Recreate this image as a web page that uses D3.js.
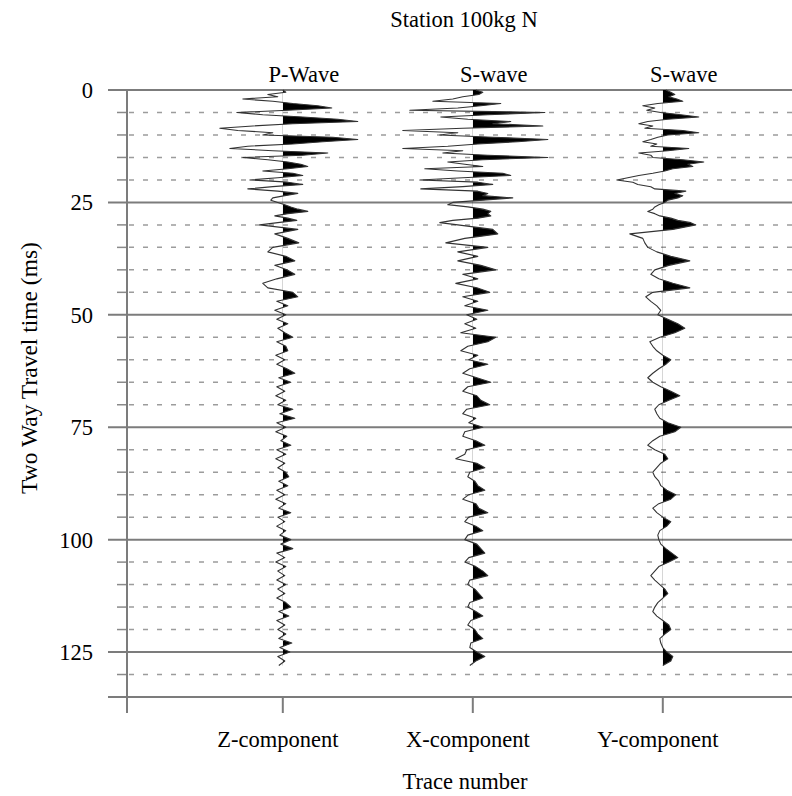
<!DOCTYPE html>
<html>
<head>
<meta charset="utf-8">
<script src="https://cdn.jsdelivr.net/npm/d3@7"></script>
<style>
  body { margin: 0; background: #fff; }
  svg { display: block; }
  text { font-family: "Liberation Serif", "Times New Roman", serif; fill: #000; }
</style>
</head>
<body>
<svg id="chart" width="792" height="796"></svg>
<script>
// ---- data -------------------------------------------------------------
const chartTitle = "Station 100kg N";
const components = ["Z-component", "X-component", "Y-component"];
const waveLabels = ["P-Wave", "S-wave", "S-wave"];
const majorTicks = [0, 25, 50, 75, 100, 125];
const minorTicks = [5, 10, 15, 20, 30, 35, 40, 45, 55, 60, 65, 70, 80, 85, 90, 95,
                    105, 110, 115, 120, 130];

// Each trace: a finely sampled early window (0.5 ms steps, 0 to 29.5 ms)
// followed by a coarser tail (1 ms steps, from 30 ms on).
const earlyStepMs = 0.5;
const lateStartMs = 30;
const lateStepMs = 1;

// Amplitudes in relative units, positive = right of trace centre
const zEarly = [
  0, 3, -15, -5, -40, -10, 10, 35, 49, 5,
  -46, -20, 20, 55, 75, 10, -30, -63, -45, -10,
  -20, 50, 75, 40, 10, -35, -53, -10, 45, 20,
  -40, -15, 5, 18, 25, 5, -20, 10, 20, -5,
  -33, 5, 20, -10, -35, -5, 15, 2, -10, -12,
  -5, 2, 8, 15, 25, 5, -8, 5, 14, -5
];
const zLate = [
  -23, 15, -8, 5, 16, -10, -15, 3, 12, -8,
  4, 12, -6, -20, -15, 10, 15, -6, 5, -8,
  3, -6, 5, -5, 2, 10, -6, 3, 5, -7,
  2, -6, 4, 12, -4, 8, -6, 2, -7, 3,
  -5, 10, -3, 12, -6, 3, -7, 4, -2, 8,
  -6, 3, -7, 2, -5, 3, 6, -4, 5, -6,
  2, -7, 3, -4, 8, -5, 2, -6, 3, -3,
  8, -2, 10, -6, 2, -7, 3, -5, 2, -6,
  3, -5, 2, -6, 3, 8, -4, 6, -6, 2,
  -5, 3, -4, 9, -3, 7, -5, 2, -4
];
const xEarly = [
  3, 10, 6, -10, -20, -40, 28, 8, -15, -63,
  72, 15, -32, -5, 38, 20, 70, -10, -70, -15,
  -33, 20, 75, 45, 5, -25, -70, -10, -30, 15,
  75, 10, -25, -8, 10, -48, -15, 30, 38, -10,
  -53, 5, 20, -10, -52, 5, 15, 10, 40, 10,
  -20, -25, -5, 10, 18, 15, 18, 5, -20, -33
];
const xLate = [
  -15, 20, 25, -8, -27, 15, -15, 5, -15, 8,
  23, -10, 5, -17, 4, 17, -10, 5, -8, 15,
  -6, 4, -8, 3, -12, 23, 15, -5, -12, 5,
  -4, 15, -3, -10, 4, 18, -5, -10, 4, 8,
  17, -6, -10, 3, -4, 10, -8, -10, 3, 12,
  -6, -8, -17, 4, 12, -3, -5, 2, 5, 12,
  -4, -10, 3, 6, 15, -4, -8, 3, 10, -5,
  -8, 4, 8, 12, -4, -8, 3, 10, 15, -3,
  -5, 2, 6, 10, -3, -5, 3, 10, -2, -5,
  2, 5, 10, -2, -3, 4, 12, 3, -3
];
const yEarly = [
  3, 8, 12, 6, 14, 20, -5, -20, -8, -16,
  -2, 18, 36, 5, -15, -24, -10, -18, 20, 36,
  5, -5, -12, -20, -6, -12, 26, 5, -24, -12,
  -10, 20, 41, 25, 30, 10, 2, -10, -24, -35,
  -46, -30, -25, -12, -8, 23, 12, 20, 15, 5,
  2, -4, -8, -10, -15, -8, -3, 8, 15, 28
];
const yLate = [
  33, 10, -33, -20, -18, -15, -6, 8, 27, 6,
  -8, -12, -4, 10, 27, -10, -17, -12, -6, -2,
  -5, 5, 15, 22, 12, -3, -13, -10, -6, 0,
  8, 3, -4, -10, -15, -10, -2, 8, 17, 6,
  -4, -8, -6, -3, 5, 18, 12, -3, -10, -15,
  -8, 2, 5, -2, -6, -10, -8, -4, -2, 4,
  13, 8, -4, -10, -6, 0, 8, 4, -3, -5,
  -4, -2, 3, 9, 15, 6, -4, -8, -12, -8,
  -3, 2, 5, 0, -5, -8, -10, -6, 0, 6,
  8, 2, -3, -2, 0, 4, 10, 8, 0
];
const traces = [[zEarly, zLate], [xEarly, xLate], [yEarly, yLate]];

// ---- layout -----------------------------------------------------------
const svg = d3.select("#chart");
const W = 792;

const y = d3.scaleLinear().domain([0, 135]).range([90, 697]);
const x = d3.scaleLinear().domain([0.18, 3.68]).range([127, W]);
// amplitude units -> fraction of the trace spacing
const amp = d3.scaleLinear().domain([-100, 100]).range([-100 / 190, 100 / 190]);

const axisLeftX = x(0.18);
const gridColor = "#7c7c7c";

// dashed minor grid lines with short ticks left of the axis
const minor = svg.append("g");
minor.selectAll("line.tick").data(minorTicks).join("line")
  .attr("class", "tick")
  .attr("x1", axisLeftX - 10).attr("x2", axisLeftX)
  .attr("y1", d => y(d)).attr("y2", d => y(d))
  .attr("stroke", "#8a8a8a").attr("stroke-width", 1.5);
minor.selectAll("line.grid").data(minorTicks).join("line")
  .attr("class", "grid")
  .attr("x1", axisLeftX + 2).attr("x2", W)
  .attr("y1", d => y(d)).attr("y2", d => y(d))
  .attr("stroke", "#9c9c9c").attr("stroke-width", 1.5)
  .attr("stroke-dasharray", "5,9");

// solid major grid lines
svg.append("g").selectAll("line").data(majorTicks).join("line")
  .attr("x1", axisLeftX - 19).attr("x2", W)
  .attr("y1", d => y(d)).attr("y2", d => y(d))
  .attr("stroke", gridColor).attr("stroke-width", 2);

// bottom axis line and left axis line
svg.append("line")
  .attr("x1", axisLeftX - 19).attr("x2", W)
  .attr("y1", y(135)).attr("y2", y(135))
  .attr("stroke", gridColor).attr("stroke-width", 2);
svg.append("line")
  .attr("x1", axisLeftX).attr("x2", axisLeftX)
  .attr("y1", y(0) - 1).attr("y2", y(135) + 16)
  .attr("stroke", gridColor).attr("stroke-width", 2);

// x ticks under each component
svg.append("g").selectAll("line").data(components).join("line")
  .attr("x1", (d, i) => x(i + 1)).attr("x2", (d, i) => x(i + 1))
  .attr("y1", y(135)).attr("y2", y(135) + 16)
  .attr("stroke", gridColor).attr("stroke-width", 2);

// ---- traces (wiggle + filled positive lobes) ----------------------------
const defs = svg.append("defs");
const traceG = svg.append("g");
traces.forEach(([early, late], i) => {
  const centre = x(i + 1);
  const pts = early.map((v, k) => [k * earlyStepMs, v])
    .concat(late.map((v, k) => [lateStartMs + k * lateStepMs, v]));

  const clipId = "pos" + i;
  defs.append("clipPath").attr("id", clipId)
    .append("rect")
    .attr("x", centre).attr("y", 0)
    .attr("width", W - centre).attr("height", 796);

  const area = d3.area()
    .y(d => y(d[0]))
    .x0(centre)
    .x1(d => x(i + 1 + amp(d[1])));
  traceG.append("path")
    .datum(pts)
    .attr("d", area)
    .attr("fill", "#000")
    .attr("clip-path", `url(#${clipId})`);

  const line = d3.line()
    .x(d => x(i + 1 + amp(d[1])))
    .y(d => y(d[0]));
  traceG.append("path")
    .datum(pts)
    .attr("d", line)
    .attr("fill", "none")
    .attr("stroke", "#333")
    .attr("stroke-width", 1.1)
    .attr("stroke-linejoin", "round");
});

// ---- text -------------------------------------------------------------
const fs = "22.5px";

svg.append("text")
  .attr("x", 464).attr("y", 27)
  .attr("text-anchor", "middle").style("font-size", fs)
  .text(chartTitle);

svg.append("g").selectAll("text").data(waveLabels).join("text")
  .attr("x", (d, i) => x(i + 1) + 21).attr("y", 82)
  .attr("text-anchor", "middle").style("font-size", fs)
  .text(d => d);

svg.append("g").selectAll("text").data(majorTicks).join("text")
  .attr("x", 93).attr("y", d => y(d) + 8)
  .attr("text-anchor", "end").style("font-size", fs)
  .text(d => d);

svg.append("g").selectAll("text").data(components).join("text")
  .attr("x", (d, i) => x(i + 1) - 5).attr("y", 747)
  .attr("text-anchor", "middle").style("font-size", fs)
  .text(d => d);

svg.append("text")
  .attr("x", 465).attr("y", 789)
  .attr("text-anchor", "middle").style("font-size", fs)
  .text("Trace number");

svg.append("text")
  .attr("transform", "translate(37,368) rotate(-90)")
  .attr("text-anchor", "middle").style("font-size", "23.5px")
  .text("Two Way Travel time (ms)");
</script>
</body>
</html>
